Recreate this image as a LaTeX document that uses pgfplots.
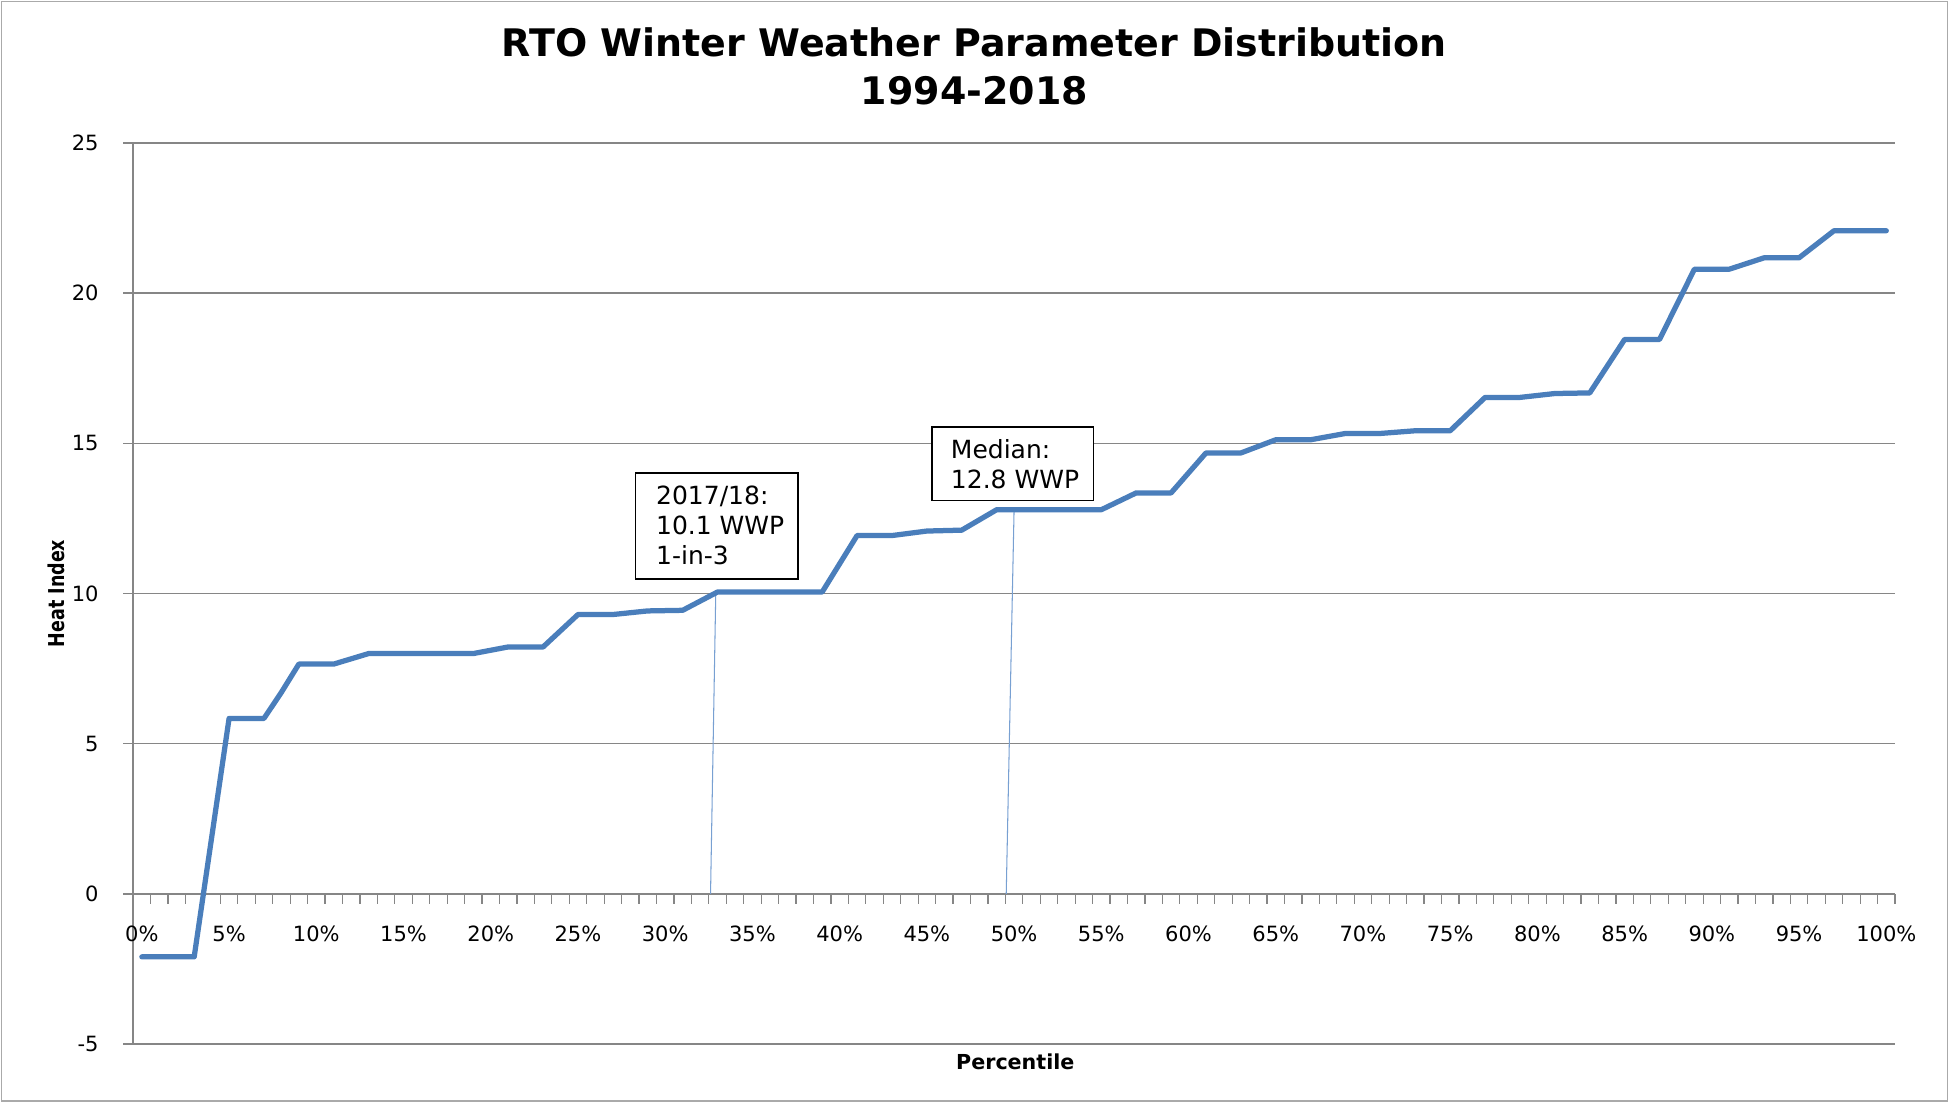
\documentclass[border=0pt]{standalone}
\usepackage{pgfplots}
\pgfplotsset{compat=1.18}
\usepackage{graphicx}
\usepackage{fontspec}
\setmainfont{DejaVu Sans}
\usetikzlibrary{calc}
\definecolor{xlblue}{RGB}{74,126,187}
\definecolor{gridgray}{RGB}{134,134,134}
\definecolor{leader}{RGB}{120,160,210}
\definecolor{framegray}{RGB}{170,170,170}
\begin{document}
\begin{tikzpicture}
\begin{axis}[
  at={(0,0)}, anchor=south west,
  scale only axis, width=354mm, height=181mm,
  xmin=-0.5, xmax=100.5, ymin=-5, ymax=25,
  axis x line*=middle, axis y line*=left,
  hide obscured x ticks=false, hide obscured y ticks=false,
  xtick={0,5,...,100},
  xticklabels={0\%,5\%,10\%,15\%,20\%,25\%,30\%,35\%,40\%,45\%,50\%,55\%,60\%,65\%,70\%,75\%,80\%,85\%,90\%,95\%,100\%},
  minor xtick={-0.5,0.5,...,100.5},
  ytick={-5,0,...,25},
  ymajorgrids,
  grid style={gridgray, line width=0.9pt},
  axis line style={gridgray, line width=0.9pt},
  tick align=outside,
  major tick length=2mm, minor tick length=2mm,
  major x tick style={draw=none},
  minor x tick style={gridgray, line width=0.7pt},
  major y tick style={gridgray, line width=0.9pt},
  tick label style={font=\fontsize{12}{14}\selectfont, text=black},
  /pgf/number format/assume math mode=true,
  xticklabel style={anchor=north, yshift=-3.3mm},
  yticklabel style={anchor=east, xshift=-3.7mm},
  clip=false,
]
\addplot[leader, line width=0.6pt] coordinates {(32.9,10.05) (32.6,0)};
\addplot[leader, line width=0.6pt] coordinates {(50,12.79) (49.55,0)};
\addplot[xlblue, line width=3pt, line join=round, line cap=round] coordinates {
(0,-2.1) (3,-2.1) (5,5.84) (7,5.84) (8,6.71) (9,7.65) (11,7.65) (13,8.0) (19,8.0)
(21,8.22) (23,8.22) (25,9.3) (27,9.3) (29,9.42) (31,9.44) (33,10.05) (39,10.05)
(41,11.93) (43,11.93) (45,12.08) (47,12.11) (49,12.79) (55,12.79) (57,13.35) (59,13.35)
(61,14.68) (63,14.68) (65,15.12) (67,15.12) (69,15.33) (71,15.33) (73,15.42) (75,15.42)
(77,16.53) (79,16.53) (81,16.66) (83,16.68) (85,18.46) (87,18.46) (89,20.8) (91,20.8)
(93,21.18) (95,21.18) (97,22.08) (100,22.08)
};
\draw[black, line width=0.9pt, fill=white] (axis cs:28.3,10.49) rectangle (axis cs:37.6,14.01);
\node[anchor=west, inner sep=0pt, align=left, font=\fontsize{14.3}{17}\selectfont]
  at (axis cs:29.46,12.27) {2017/18:\\10.1 WWP\\1-in-3};
\draw[black, line width=0.9pt, fill=white] (axis cs:45.3,13.1) rectangle (axis cs:54.56,15.55);
\node[anchor=west, inner sep=0pt, align=left, font=\fontsize{14.3}{17}\selectfont]
  at (axis cs:46.36,14.30) {Median:\\12.8 WWP};
\end{axis}
\node[font=\bfseries\fontsize{21.7}{26}\selectfont] at (169mm,201.25mm) {RTO Winter Weather Parameter Distribution};
\node[font=\bfseries\fontsize{21.7}{26}\selectfont] at (169mm,191.5mm) {1994-2018};
\node[font=\bfseries\fontsize{11.8}{14}\selectfont] at (177.25mm,-3.5mm) {Percentile};
\node[rotate=90, font=\bfseries\fontsize{12.5}{14}\selectfont] at (-15.5mm,90.5mm) {\scalebox{0.8}[1]{Heat Index}};
\draw[framegray, line width=0.8pt] (-26.5mm,-11.5mm) rectangle (364.5mm,209.5mm);
\useasboundingbox (-26.75mm,-12mm) rectangle (365.25mm,209.75mm);
\end{tikzpicture}
\end{document}
